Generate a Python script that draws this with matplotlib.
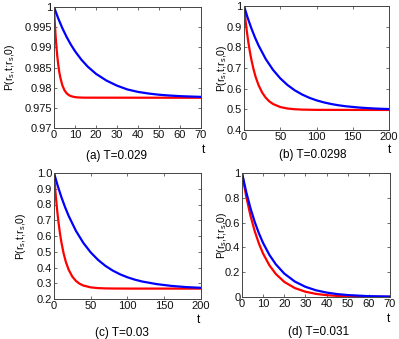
import matplotlib
matplotlib.use('Agg')
import matplotlib.pyplot as plt
from matplotlib import font_manager

# pick the regular (not narrow) Liberation Sans
sans_path = None
for f in font_manager.findSystemFonts():
    if f.endswith('LiberationSans-Regular.ttf'):
        sans_path = f
if sans_path:
    font_manager.fontManager.addfont(sans_path)
    sans_name = font_manager.FontProperties(fname=sans_path).get_name()
else:
    sans_name = 'DejaVu Sans'
plt.rcParams['font.family'] = [sans_name, 'DejaVu Sans']
plt.rcParams['mathtext.fontset'] = 'custom'
plt.rcParams['mathtext.rm'] = sans_name

# panel (a) T=0.029
ta_blue = [0, 2, 4, 6, 8, 10, 13, 16, 20, 25, 30, 35, 40, 45, 50, 55, 60, 65, 70]
pa_blue = [1.0, 0.99719, 0.99473, 0.99258, 0.99070, 0.98905, 0.98696, 0.98524, 0.98343,
           0.98175, 0.98050, 0.97955, 0.97895, 0.97855, 0.97825, 0.97805, 0.97790, 0.97780, 0.97772]
ta_red = [0, 0.25, 0.5, 0.75, 1, 1.5, 2, 2.5, 3, 4, 5, 6, 7, 8, 10, 12, 15, 70]
pa_red = [1.0, 0.99736, 0.99502, 0.99296, 0.99115, 0.98813, 0.98578, 0.98395, 0.98252,
          0.98055, 0.97935, 0.97862, 0.97818, 0.97791, 0.97765, 0.97756, 0.97752, 0.97750]

# panel (b) T=0.0298
tb_blue = [0, 5, 10, 15, 20, 30, 40, 50, 60, 70, 80, 90, 100, 110, 120, 130, 140, 160, 180, 200]
pb_blue = [1.0, 0.9436, 0.8934, 0.8490, 0.8095, 0.7433, 0.6911, 0.6500, 0.6176, 0.5920,
           0.5719, 0.5560, 0.5435, 0.5337, 0.5259, 0.5198, 0.5150, 0.5082, 0.5039, 0.5013]
tb_red = [0, 2, 4, 6, 8, 10, 13, 16, 20, 25, 30, 35, 40, 50, 60, 70, 80, 100, 200]
pb_red = [1.0, 0.9331, 0.8750, 0.8247, 0.7810, 0.7432, 0.6957, 0.6574, 0.6176, 0.5814,
          0.5560, 0.5383, 0.5259, 0.5111, 0.5039, 0.5004, 0.4987, 0.4974, 0.4970]

# panel (c) T=0.03
tc_blue = [0, 5, 10, 15, 20, 30, 40, 50, 60, 70, 80, 90, 100, 110, 120, 140, 160, 180, 200]
pc_blue = [1.0, 0.9194, 0.8477, 0.7838, 0.7270, 0.6313, 0.5556, 0.4955, 0.4479, 0.4101,
           0.3802, 0.3565, 0.3377, 0.3228, 0.3110, 0.2943, 0.2830, 0.2755, 0.2710]
tc_red = [0, 2, 4, 6, 8, 10, 13, 16, 20, 25, 30, 35, 40, 50, 60, 70, 80, 100, 200]
pc_red = [1.0, 0.8780, 0.7762, 0.6914, 0.6207, 0.5617, 0.4911, 0.4374, 0.3851, 0.3416,
          0.3140, 0.2965, 0.2854, 0.2738, 0.2691, 0.2673, 0.2666, 0.2661, 0.2660]

# panel (d) T=0.031
td = [0, 2, 4, 6, 8, 10, 13, 16, 20, 25, 30, 35, 40, 45, 50, 60, 70]
pd_blue = [1.0, 0.8465, 0.7165, 0.6065, 0.5134, 0.4346, 0.3385, 0.2636, 0.1889, 0.1245,
           0.0821, 0.0541, 0.0357, 0.0235, 0.0155, 0.0067, 0.0040]
pd_red = [1.0, 0.8102, 0.6564, 0.5318, 0.4308, 0.3490, 0.2545, 0.1856, 0.1218, 0.0720,
          0.0425, 0.0251, 0.0148, 0.0088, 0.0052, 0.0018, 0.0006]

W, H = 399, 339
fig = plt.figure(figsize=(W / 100, H / 100), dpi=100)


def px_axes(left, top, right, bottom):
    return fig.add_axes([left / W, 1 - bottom / H, (right - left) / W, (bottom - top) / H])


panels = [
    dict(box=(54, 7, 201, 128), tb=ta_blue, pb=pa_blue, tr=ta_red, pr=pa_red,
         xlim=(0, 70), xt=range(0, 71, 10), ylim=(0.97, 1.0),
         yt=[0.97, 0.975, 0.98, 0.985, 0.99, 0.995, 1.0],
         ytl=['0.97', '0.975', '0.98', '0.985', '0.99', '0.995', '1'],
         ylab_x=10, tpos=(203, 150), title='(a) T=0.029', titlepos=(117, 156)),
    dict(box=(244, 6, 389, 130), tb=tb_blue, pb=pb_blue, tr=tb_red, pr=pb_red,
         xlim=(0, 200), xt=range(0, 201, 50), ylim=(0.4, 1.0),
         yt=[0.4, 0.5, 0.6, 0.7, 0.8, 0.9, 1.0],
         ytl=['0.4', '0.5', '0.6', '0.7', '0.8', '0.9', '1'],
         ylab_x=222, tpos=(389, 150), title='(b) T=0.0298', titlepos=(313, 155)),
    dict(box=(54, 173, 201, 299), tb=tc_blue, pb=pc_blue, tr=tc_red, pr=pc_red,
         xlim=(0, 200), xt=range(0, 201, 50), ylim=(0.2, 1.0),
         yt=[0.2, 0.3, 0.4, 0.5, 0.6, 0.7, 0.8, 0.9, 1.0],
         ytl=['0.2', '0.3', '0.4', '0.5', '0.6', '0.7', '0.8', '0.9', '1.0'],
         ylab_x=21, tpos=(198, 320), title='(c) T=0.03', titlepos=(122, 333)),
    dict(box=(242, 173, 390, 297), tb=td, pb=pd_blue, tr=td, pr=pd_red,
         xlim=(0, 70), xt=range(0, 71, 10), ylim=(0, 1.0),
         yt=[0, 0.2, 0.4, 0.6, 0.8, 1.0],
         ytl=['0', '0.2', '0.4', '0.6', '0.8', '1'],
         ylab_x=222, tpos=(388, 319), title='(d) T=0.031', titlepos=(319, 332)),
]

ylab = 'P(r$_\\mathregular{s}$,t;r$_\\mathregular{s}$,0)'

for p in panels:
    ax = px_axes(*p['box'])
    ax.plot(p['tr'], p['pr'], color='red', lw=1.6, solid_capstyle='butt')
    ax.plot(p['tb'], p['pb'], color='blue', lw=1.6, solid_capstyle='butt')
    ax.set_xlim(*p['xlim'])
    ax.set_ylim(*p['ylim'])
    ax.set_xticks(list(p['xt']))
    ax.set_yticks(p['yt'])
    ax.set_yticklabels(p['ytl'])
    ax.tick_params(direction='in', length=2.5, width=0.5, labelsize=8, pad=1.2,
                   top=True, right=True, colors='#333333', labelcolor='#111111')
    for s in ax.spines.values():
        s.set_linewidth(0.7)
        s.set_color('#444444')
    top = p['box'][1]
    bottom = p['box'][3]
    fig.text(p['ylab_x'] / W, 1 - (top + bottom) / 2 / H, ylab, fontsize=7.5,
             rotation=90, ha='center', va='center')
    tx, ty = p['tpos']
    fig.text(tx / W, 1 - ty / H, 't', fontsize=8.5, ha='center', va='center')
    hx, hy = p['titlepos']
    fig.text(hx / W, 1 - hy / H, p['title'], fontsize=8.5, ha='center', va='center')

fig.savefig('out.png', dpi=100)
